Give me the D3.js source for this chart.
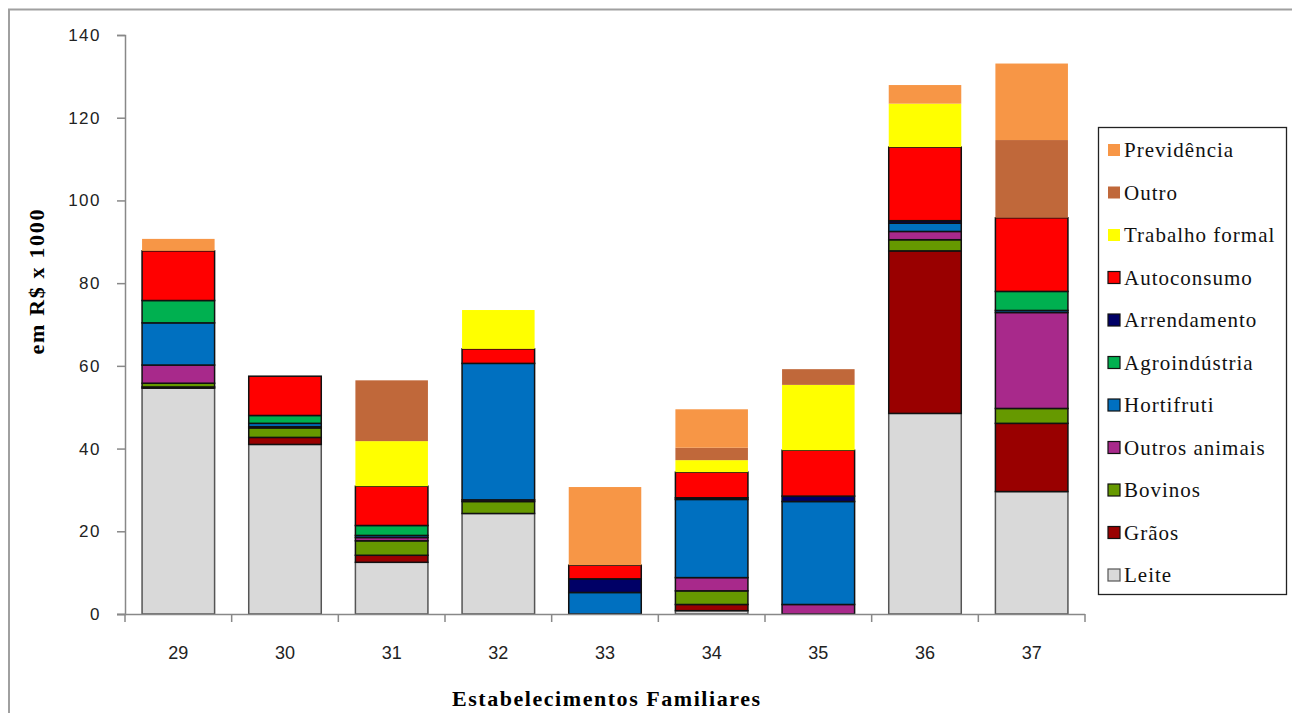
<!DOCTYPE html>
<html>
<head>
<meta charset="utf-8">
<script src="https://cdn.jsdelivr.net/npm/d3@7"></script>
<style>
  html, body { margin: 0; padding: 0; background: #fff; }
  svg { display: block; }
</style>
</head>
<body>
<svg id="chart" width="1292" height="713"></svg>
<script>
// ---- data ----
const categories = ["29", "30", "31", "32", "33", "34", "35", "36", "37"];
const seriesNames = ["Leite", "Grãos", "Bovinos", "Outros animais", "Hortifruti",
  "Agroindústria", "Arrendamento", "Autoconsumo", "Trabalho formal", "Outro", "Previdência"];
const leite         = [54.6, 41.0, 12.5, 24.3, 0,    0.8,  0,    48.5, 29.6];
const graos         = [0.3,  1.7,  1.7,  0,    0,    1.5,  0,    39.3, 16.5];
const bovinos       = [0.9,  2.3,  3.5,  2.9,  0,    3.3,  0,    2.7,  3.6];
const outrosAnimais = [4.4,  0.3,  0.8,  0.4,  0,    3.2,  2.3,  2.0,  23.2];
const hortifruti    = [10.2, 0.8,  0.5,  33.0, 5.2,  18.9, 24.9, 2.0,  0.5];
const agroindustria = [5.4,  1.9,  2.4,  0,    0,    0,    0,    0,    4.6];
const arrendamento  = [0,    0,    0,    0,    3.3,  0.4,  1.3,  0.6,  0];
const autoconsumo   = [12.0, 9.5,  9.5,  3.5,  3.3,  6.2,  11.1, 17.8, 17.8];
const trabalho      = [0,    0,    10.9, 9.4,  0,    2.9,  15.8, 10.5, 0];
const outro         = [0,    0,    14.7, 0,    0,    3.0,  3.8,  0,    18.8];
const previdencia   = [2.9,  0,    0,    0,    18.9, 9.3,  0,    4.5,  18.5];
const yTicks = [0, 20, 40, 60, 80, 100, 120, 140];

const seriesValues = [leite, graos, bovinos, outrosAnimais, hortifruti,
  agroindustria, arrendamento, autoconsumo, trabalho, outro, previdencia];
const colors = {
  "Leite": "#d9d9d9", "Grãos": "#990000", "Bovinos": "#669900",
  "Outros animais": "#a8298b", "Hortifruti": "#0070c0", "Agroindústria": "#00b050",
  "Arrendamento": "#000066", "Autoconsumo": "#ff0000", "Trabalho formal": "#ffff00",
  "Outro": "#c0683a", "Previdência": "#f79646"
};
const noStroke = new Set(["Trabalho formal", "Outro", "Previdência"]);

const rows = categories.map((c, i) => {
  const r = { cat: c };
  seriesNames.forEach((s, j) => r[s] = seriesValues[j][i]);
  return r;
});

const svg = d3.select("#chart");

// outer frame
svg.append("path")
  .attr("d", "M9,713 V9.5 H1292")
  .attr("fill", "none").attr("stroke", "#a0a0a0").attr("stroke-width", 2);

const x = d3.scaleBand().domain(categories).range([125, 1085])
  .paddingInner(0.32).paddingOuter(0.16);
const y = d3.scaleLinear().domain([0, 140]).range([614, 35]);

const stack = d3.stack().keys(seriesNames)(rows);

const layers = svg.append("g").selectAll("g").data(stack).join("g")
  .attr("fill", d => colors[d.key])
  .attr("stroke", d => noStroke.has(d.key) ? "none" : (d.key === "Leite" ? "#555" : "#111"))
  .attr("stroke-width", 1.5);

layers.selectAll("rect").data(d => d.filter(p => p[1] - p[0] > 0)).join("rect")
  .attr("x", d => x(d.data.cat))
  .attr("width", x.bandwidth())
  .attr("y", d => y(d[1]))
  .attr("height", d => y(d[0]) - y(d[1]));

// y axis
const yAxis = svg.append("g").attr("transform", "translate(125,0)")
  .call(d3.axisLeft(y).tickValues(yTicks).tickSize(8).tickPadding(16));
yAxis.select(".domain").attr("stroke", "#888").attr("stroke-width", 1.5);
yAxis.selectAll(".tick line").attr("stroke", "#888").attr("stroke-width", 1.5);
yAxis.selectAll(".tick text")
  .attr("font-family", "'Liberation Sans', Arial, sans-serif")
  .attr("font-size", 17).attr("letter-spacing", 1.5).attr("fill", "#222");

// x axis
const xAxis = svg.append("g").attr("transform", "translate(0,614)")
  .call(d3.axisBottom(x).tickSize(0).tickPadding(32));
xAxis.select(".domain").attr("stroke", "#888").attr("stroke-width", 1.5)
  .attr("d", "M117,0.5H1085");
xAxis.selectAll(".tick text")
  .attr("font-family", "'Liberation Sans', Arial, sans-serif")
  .attr("font-size", 18).attr("fill", "#222");
// boundary ticks between categories
const bounds = categories.map(c => x(c) - x.step() * x.paddingInner() / 2).concat([1085]);
svg.append("g").selectAll("line").data(bounds).join("line")
  .attr("x1", d => d).attr("x2", d => d)
  .attr("y1", 614).attr("y2", 622)
  .attr("stroke", "#888").attr("stroke-width", 1.5);

// axis titles
svg.append("text")
  .attr("transform", "translate(44,282) rotate(-90)")
  .attr("text-anchor", "middle")
  .attr("font-family", "'Liberation Serif', 'Times New Roman', serif")
  .attr("font-weight", "bold").attr("font-size", 22)
  .attr("textLength", 145).attr("lengthAdjust", "spacing")
  .text("em R$ x 1000");

svg.append("text")
  .attr("x", 606).attr("y", 706)
  .attr("text-anchor", "middle")
  .attr("font-family", "'Liberation Serif', 'Times New Roman', serif")
  .attr("font-weight", "bold").attr("font-size", 22)
  .attr("textLength", 308).attr("lengthAdjust", "spacing")
  .text("Estabelecimentos Familiares");

// legend
const legend = svg.append("g");
legend.append("rect")
  .attr("x", 1098.5).attr("y", 127.5).attr("width", 188).attr("height", 467)
  .attr("fill", "#fff").attr("stroke", "#222").attr("stroke-width", 1.3);
const legendOrder = seriesNames.slice().reverse();
const li = legend.selectAll("g.item").data(legendOrder).join("g")
  .attr("class", "item")
  .attr("transform", (d, i) => `translate(0,${150 + i * 42.5})`);
li.append("rect")
  .attr("x", 1108).attr("y", -6).attr("width", 12).attr("height", 12)
  .attr("fill", d => colors[d])
  .attr("stroke", d => noStroke.has(d) ? "none" : (d === "Leite" ? "#555" : "#111"))
  .attr("stroke-width", 1.2);
li.append("text")
  .attr("x", 1124).attr("y", 7)
  .attr("font-family", "'Liberation Serif', 'Times New Roman', serif")
  .attr("font-size", 21).attr("letter-spacing", 1).attr("fill", "#111")
  .text(d => d);
</script>
</body>
</html>
